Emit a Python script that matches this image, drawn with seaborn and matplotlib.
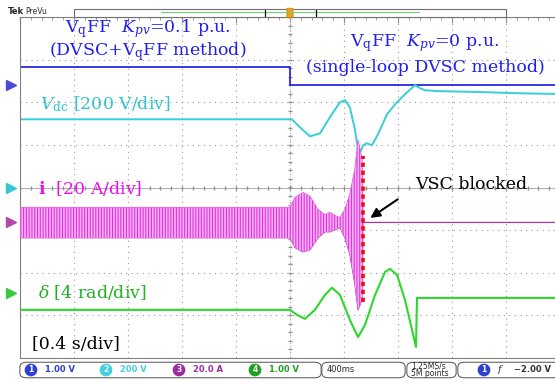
import numpy as np
import matplotlib
matplotlib.use("Agg")
import matplotlib.pyplot as plt
import seaborn as sns
from matplotlib.ticker import MultipleLocator
from matplotlib.patches import FancyBboxPatch, Rectangle

# scope traces: time in s (trigger at 0), amplitude in div
vq_t = [-2.0, 0.0, 0.0, 2.1]
vq_y = [2.82, 2.82, 2.40, 2.40]

vdc_t = [-2.0, 0.015, 0.074, 0.148, 0.222, 0.296, 0.370, 0.407, 0.444, 0.481,
         0.504, 0.519, 0.541, 0.570, 0.607, 0.652, 0.719, 0.778, 0.852, 0.926,
         0.963, 1.0, 1.111, 1.407, 1.704, 2.05]
vdc_y = [1.60, 1.60, 1.41, 1.20, 1.27, 1.65, 2.00, 2.05, 1.88, 1.36,
         0.89, 0.82, 0.99, 1.04, 0.99, 1.25, 1.72, 1.95, 2.19, 2.40,
         2.33, 2.28, 2.26, 2.24, 2.21, 2.19]

delta_t = [-2.0, 0.0, 0.052, 0.111, 0.185, 0.259, 0.311, 0.370, 0.444, 0.504,
           0.556, 0.630, 0.704, 0.741, 0.793, 0.852, 0.904, 0.933, 0.941, 2.05]
delta_y = [-2.87, -2.87, -2.99, -3.08, -2.87, -2.52, -2.35, -2.52, -3.11, -3.51,
           -3.22, -2.52, -1.98, -1.91, -2.05, -2.64, -3.34, -3.74, -2.59, -2.59]

# current envelope (upper / lower extremes of the 50 Hz waveform)
i_t = [-2.0, 0.0, 0.037, 0.096, 0.148, 0.207, 0.259, 0.296, 0.333, 0.370,
       0.407, 0.444, 0.481, 0.504, 0.533, 0.541, 2.05]
i_hi = [-0.47, -0.47, -0.24, -0.12, -0.21, -0.52, -0.64, -0.59, -0.66, -0.71,
        -0.52, -0.16, 0.42, 1.10, 0.66, -0.82, -0.82]
i_lo = [-1.18, -1.18, -1.41, -1.51, -1.46, -1.18, -1.04, -1.04, -0.99, -0.94,
        -1.18, -1.58, -2.28, -2.87, -2.64, -0.82, -0.82]

blocked_t = 0.541
blocked_span = [-2.68, 0.73]

ch_levels = [2.40, 0.0, -0.82, -2.47]
ch_colors = ['#4a4ad8', '#35c8d0', '#b04ab0', '#3cc83c']

sns.set_style("white")
plt.rcParams['font.family'] = ['DejaVu Serif']
plt.rcParams['mathtext.fontset'] = 'dejavuserif'
plt.rcParams['hatch.linewidth'] = 0.8

W, H = 555, 382
fig = plt.figure(figsize=(W / 100, H / 100), dpi=100)
ax = fig.add_axes([20 / W, (H - 358) / H, 540 / W, 341 / H])

ax.set_xlim(-2, 2)
ax.set_ylim(-4, 4)
ax.xaxis.set_major_locator(MultipleLocator(0.4))
ax.yaxis.set_major_locator(MultipleLocator(1))
ax.xaxis.set_minor_locator(MultipleLocator(0.08))
ax.yaxis.set_minor_locator(MultipleLocator(0.2))
ax.tick_params(which='both', direction='in', top=True, right=True,
               labelbottom=False, labelleft=False, color='#909090')
ax.tick_params(which='major', length=4, width=0.8)
ax.tick_params(which='minor', length=2, width=0.6)
ax.grid(True, which='major', ls=(0, (1, 4)), color='#9a9a9a', lw=0.8)
for s in ax.spines.values():
    s.set_color('#808080')
    s.set_linewidth(0.8)

# center crosshair with ticks
ax.axhline(0, color='#b0b0b0', lw=0.7, zorder=1)
ax.axvline(0, color='#b0b0b0', lw=0.7, ls=(0, (1, 2)), zorder=1)
xs = np.arange(-2, 2.001, 0.08)
ax.plot(xs, np.zeros_like(xs), '|', ms=3, color='#909090', zorder=1)
ys = np.arange(-4, 4.001, 0.2)
ax.plot(np.zeros_like(ys), ys, '_', ms=3, color='#909090', zorder=1)

# traces
sns.lineplot(x=vq_t, y=vq_y, ax=ax, color='#2a2ae0', lw=1.3,
             sort=False, estimator=None)
sns.lineplot(x=vdc_t, y=vdc_y, ax=ax, color='#35cfd6', lw=1.4,
             sort=False, estimator=None)
ax.fill_between(i_t, i_lo, i_hi, facecolor='#f8b4f6', edgecolor='#e22ee0',
                hatch='||||||', linewidth=0, zorder=3)
sns.lineplot(x=i_t, y=i_hi, ax=ax, color='#e040e0', lw=0.8,
             sort=False, estimator=None)
sns.lineplot(x=i_t, y=i_lo, ax=ax, color='#b030b0', lw=0.8,
             sort=False, estimator=None)
sns.lineplot(x=delta_t, y=delta_y, ax=ax, color='#2cd82c', lw=1.5,
             sort=False, estimator=None)
ax.plot([blocked_t, blocked_t], blocked_span, color='#e81010', lw=2.6,
        ls=(0, (1.2, 1.0)), zorder=6)

# channel markers on the left edge
for lv, c in zip(ch_levels, ch_colors):
    ax.plot(-2.07, lv, marker='>', ms=7, color=c, clip_on=False)

# annotations
fs = 12.5
ax.text(-1.052, 3.74, r'V$_{\mathrm{q}}$FF  $K_{pv}$=0.1 p.u.', color='#2020ee',
        fontsize=fs, ha='center', va='center')
ax.text(-1.052, 3.18, r'(DVSC+V$_{\mathrm{q}}$FF method)', color='#2020ee',
        fontsize=fs, ha='center', va='center')
ax.text(1.0, 3.38, r'V$_{\mathrm{q}}$FF  $K_{pv}$=0 p.u.', color='#2020ee',
        fontsize=fs, ha='center', va='center')
ax.text(1.0, 2.82, '(single-loop DVSC method)', color='#2020ee',
        fontsize=fs, ha='center', va='center')
ax.text(-1.85, 1.95, r'$V_{\mathrm{dc}}$ [200 V/div]', color='#2ec4cc',
        fontsize=fs, ha='left', va='center')
ax.text(-1.87, -0.02, r'$\mathbf{i}$  [20 A/div]', color='#f010f0',
        fontsize=fs, ha='left', va='center')
ax.text(-1.87, -2.47, r'$\delta$ [4 rad/div]', color='#20b020',
        fontsize=fs, ha='left', va='center')
ax.text(-1.91, -3.69, '[0.4 s/div]', color='black',
        fontsize=fs, ha='left', va='center')
ax.text(0.926, 0.07, 'VSC blocked', color='black',
        fontsize=fs, ha='left', va='center')
ax.annotate('', xy=(0.578, -0.75), xytext=(0.815, -0.24),
            arrowprops=dict(arrowstyle='-|>', color='black', lw=1.5,
                            mutation_scale=14), zorder=7)

# header bar
def px(x, y):
    return x / W, 1 - y / H

fig.text(*px(8, 12), 'Tek', fontsize=6, fontweight='bold',
         family='DejaVu Sans', va='center')
fig.text(*px(25, 12), 'PreVu', fontsize=5.5, family='DejaVu Sans',
         va='center', color='#303030')
fig.patches.append(Rectangle(px(74, 17), 432 / W, 8 / H, transform=fig.transFigure,
                             facecolor='white', edgecolor='#707070', lw=0.8))
fig.add_artist(plt.Line2D([161 / W, 419 / W], [1 - 12 / H] * 2, color='#70d070',
                          lw=0.8, transform=fig.transFigure))
for xx in (265, 316):
    fig.add_artist(plt.Line2D([xx / W] * 2, [1 - 10 / H, 1 - 16 / H], color='black',
                              lw=0.9, transform=fig.transFigure))
fig.patches.append(FancyBboxPatch(px(288, 17), 4 / W, 8 / H,
                                  boxstyle='round,pad=0.002', transform=fig.transFigure,
                                  facecolor='#f0a020', edgecolor='#d08010', lw=0.6))

# status bar
def sbox(x0, x1):
    fig.patches.append(FancyBboxPatch(px(x0, 377), (x1 - x0) / W, 14 / H,
                                      boxstyle='round,pad=0.002,rounding_size=0.012',
                                      transform=fig.transFigure,
                                      facecolor='white', edgecolor='#505050', lw=0.7))

sbox(21, 320)
sbox(323, 404)
sbox(408, 455)
sbox(459, 565)
readouts = [('1', '1.00 V', 31, '#2f3fd0'), ('2', '200 V', 106, '#40d0e0'),
            ('3', '20.0 A', 179, '#a02aa0'), ('4', '1.00 V', 255, '#20a020')]
for num, lab, x0, c in readouts:
    fig.text(*px(x0, 370), num, fontsize=5.5, color='white', ha='center',
             va='center', family='DejaVu Sans', fontweight='bold',
             bbox=dict(boxstyle='circle,pad=0.15', facecolor=c, edgecolor=c))
    fig.text(*px(x0 + 14, 370), lab, fontsize=6, color=c, ha='left',
             va='center', family='DejaVu Sans', fontweight='bold')
fig.text(*px(327, 369), '400ms', fontsize=6, ha='left', va='center',
         family='DejaVu Sans')
fig.text(*px(411, 366), '1.25MS/s', fontsize=5.5, ha='left', va='center',
         family='DejaVu Sans')
fig.text(*px(411, 374), '5M points', fontsize=5.5, ha='left', va='center',
         family='DejaVu Sans')
fig.text(*px(484, 370), '1', fontsize=5.5, color='white', ha='center',
         va='center', family='DejaVu Sans', fontweight='bold',
         bbox=dict(boxstyle='circle,pad=0.15', facecolor='#2f3fd0', edgecolor='#2f3fd0'))
fig.text(*px(501, 370), r'$\mathit{f}$', fontsize=7, ha='center', va='center')
fig.text(*px(514, 370), '\u22122.00 V', fontsize=6, ha='left', va='center',
         family='DejaVu Sans', fontweight='bold', color='#303030')

fig.savefig('out.png', dpi=100)
